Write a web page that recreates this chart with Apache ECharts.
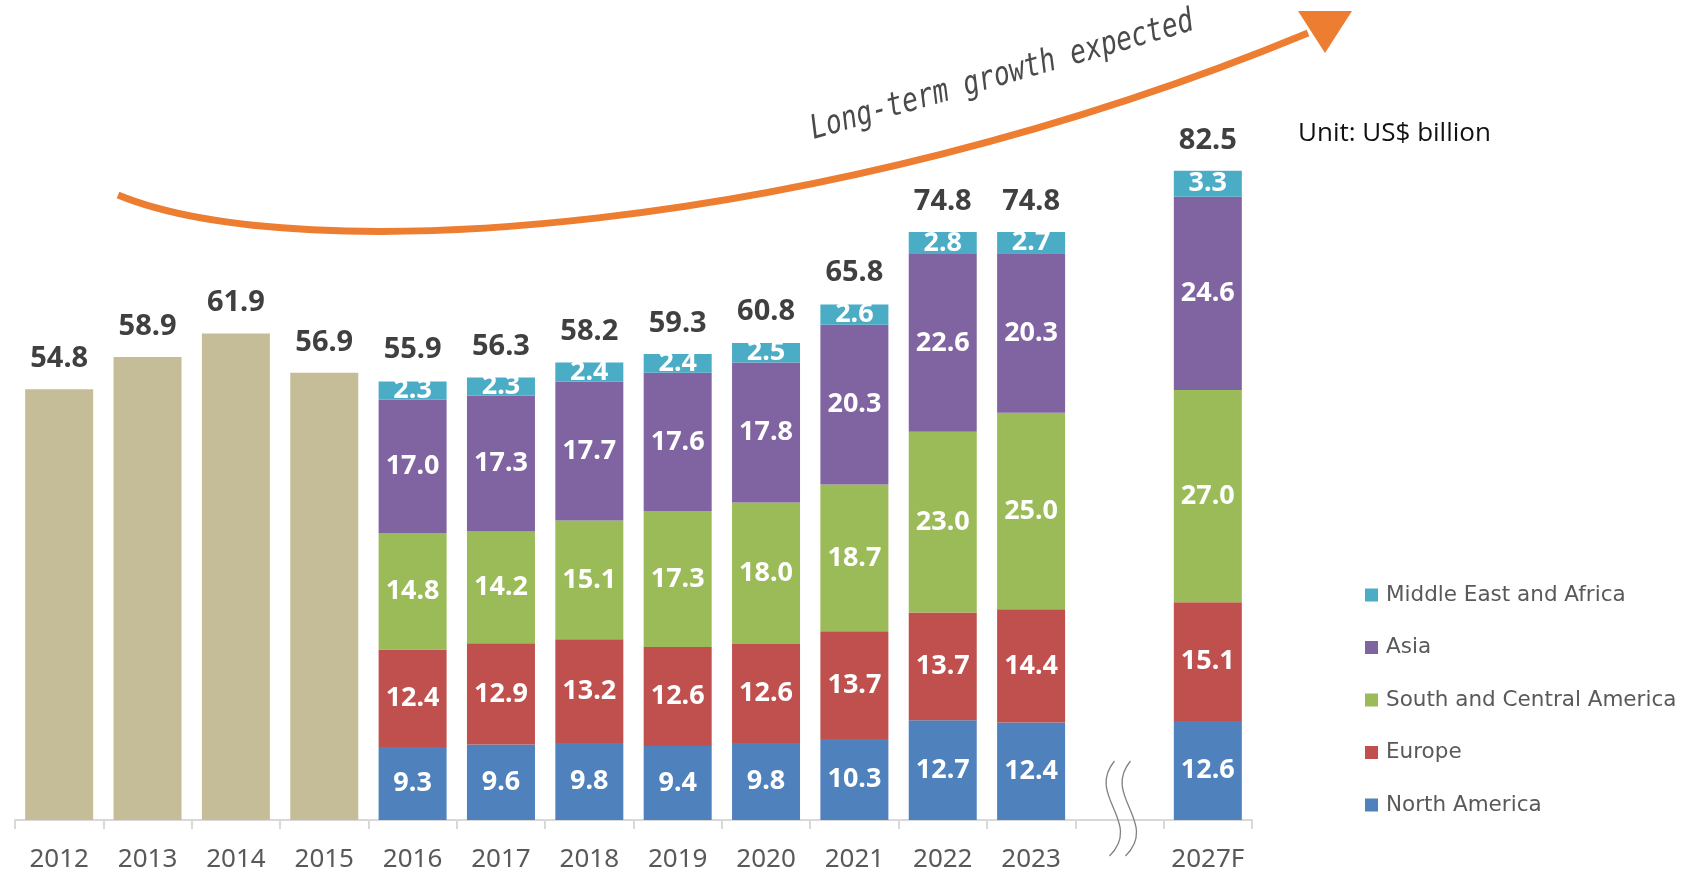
<!DOCTYPE html>
<html>
<head>
<meta charset="utf-8">
<script src="https://cdn.jsdelivr.net/npm/echarts@6/dist/echarts.min.js"></script>
<style>
html,body{margin:0;padding:0;background:#fff;}
#chart{width:1686px;height:873px;}
</style>
</head>
<body>
<div id="chart"></div>
<script>
const categories = ['2012','2013','2014','2015','2016','2017','2018','2019','2020','2021','2022','2023','','2027F'];
const totals = [54.8, 58.9, 61.9, 56.9, 55.9, 56.3, 58.2, 59.3, 60.8, 65.8, 74.8, 74.8, null, 82.5];
const northAmerica = [null, null, null, null, 9.3, 9.6, 9.8, 9.4, 9.8, 10.3, 12.7, 12.4, null, 12.6];
const europe       = [null, null, null, null, 12.4, 12.9, 13.2, 12.6, 12.6, 13.7, 13.7, 14.4, null, 15.1];
const southCentralAmerica = [null, null, null, null, 14.8, 14.2, 15.1, 17.3, 18.0, 18.7, 23.0, 25.0, null, 27.0];
const asia         = [null, null, null, null, 17.0, 17.3, 17.7, 17.6, 17.8, 20.3, 22.6, 20.3, null, 24.6];
const middleEastAfrica = [null, null, null, null, 2.3, 2.3, 2.4, 2.4, 2.5, 2.6, 2.8, 2.7, null, 3.3];
const seriesNames = ['North America', 'Europe', 'South and Central America', 'Asia', 'Middle East and Africa'];
const legendOrder = ['Middle East and Africa', 'Asia', 'South and Central America', 'Europe', 'North America'];

const colors = {
  'North America': '#4F81BD',
  'Europe': '#C0504D',
  'South and Central America': '#9BBB59',
  'Asia': '#8064A2',
  'Middle East and Africa': '#4BACC6'
};
const regionData = [northAmerica, europe, southCentralAmerica, asia, middleEastAfrica];

const chart = echarts.init(document.getElementById('chart'));
const BW = 68;
const fmt = p => (p.value == null ? '' : Number(p.value).toFixed(1));

const totalSeries = {
  name: 'Total', type: 'bar', barWidth: BW, barGap: '-100%', z: 1,
  data: totals.map((v, i) => ({
    value: v == null ? '-' : v,
    itemStyle: { color: northAmerica[i] == null ? '#C4BD97' : 'rgba(0,0,0,0)' }
  })),
  label: {
    show: true, position: 'top', distance: 16, formatter: fmt,
    fontFamily: 'Noto Sans', fontWeight: 'bold', fontSize: 29, color: '#404040'
  },
  emphasis: { disabled: true }
};

const stackSeries = seriesNames.map((n, k) => ({
  name: n, type: 'bar', stack: 'regions', barWidth: BW, barGap: '-100%', z: 2,
  itemStyle: { color: colors[n] },
  data: regionData[k].map(v => v == null ? '-' : v),
  label: {
    show: true, position: 'inside', formatter: fmt,
    fontFamily: 'Noto Sans', fontWeight: 'bold', fontSize: 27, color: '#ffffff'
  },
  emphasis: { disabled: true }
}));

chart.setOption({
  animation: false,
  backgroundColor: '#ffffff',
  grid: { left: 15, width: 1237, top: 34, bottom: 50.4 },
  xAxis: {
    type: 'category', data: categories,
    axisLine: { lineStyle: { color: '#D9D9D9', width: 2 } },
    axisTick: { show: true, length: 9, interval: 0, lineStyle: { color: '#D9D9D9', width: 2 } },
    axisLabel: { interval: 0, margin: 27, fontFamily: 'Noto Sans', fontSize: 26, color: '#595959' }
  },
  yAxis: { type: 'value', min: 0, max: 100, show: false },
  legend: {
    data: legendOrder, orient: 'vertical', left: 1360, top: 579,
    itemWidth: 13, itemHeight: 13, itemGap: 30.5, icon: 'rect',
    textStyle: { fontFamily: 'DejaVu Sans', fontSize: 21.5, color: '#595959', padding: [0, 0, 0, 3] }
  },
  series: [totalSeries].concat(stackSeries)
});

const cx = chart.convertToPixel({ xAxisIndex: 0 }, 12);
function squiggle(dx) {
  return {
    type: 'bezierCurve', silent: true, z: 100,
    shape: { x1: cx - 5 + dx, y1: 761, cpx1: cx - 34 + dx, cpy1: 796, cpx2: cx + 24 + dx, cpy2: 822, x2: cx - 10 + dx, y2: 856 },
    style: { stroke: '#808080', lineWidth: 1.3, fill: null }
  };
}

chart.setOption({
  graphic: [
    {
      type: 'bezierCurve', silent: true,
      shape: { x1: 118, y1: 195, cpx1: 300, cpy1: 270, cpx2: 820, cpy2: 235, x2: 1308, y2: 33 },
      style: { stroke: '#ED7D31', lineWidth: 7, fill: null }
    },
    {
      type: 'polygon', silent: true,
      shape: { points: [[1298, 11], [1352, 11], [1325, 53]] },
      style: { fill: '#ED7D31' }
    },
    {
      type: 'text', silent: true, x: 1002, y: 76, rotation: 16 * Math.PI / 180, scaleX: 0.8,
      style: {
        text: 'Long-term growth expected', fontFamily: 'DejaVu Sans Mono', fontStyle: 'italic',
        fontSize: 33, fill: '#4a4a4a', align: 'center', verticalAlign: 'middle'
      }
    },
    {
      type: 'text', silent: true, x: 1298, y: 134,
      style: {
        text: 'Unit: US$ billion', fontFamily: 'Open Sans', fontSize: 26,
        fill: '#111111', align: 'left', verticalAlign: 'middle'
      }
    },
    squiggle(0),
    squiggle(16)
  ]
});
</script>
</body>
</html>
